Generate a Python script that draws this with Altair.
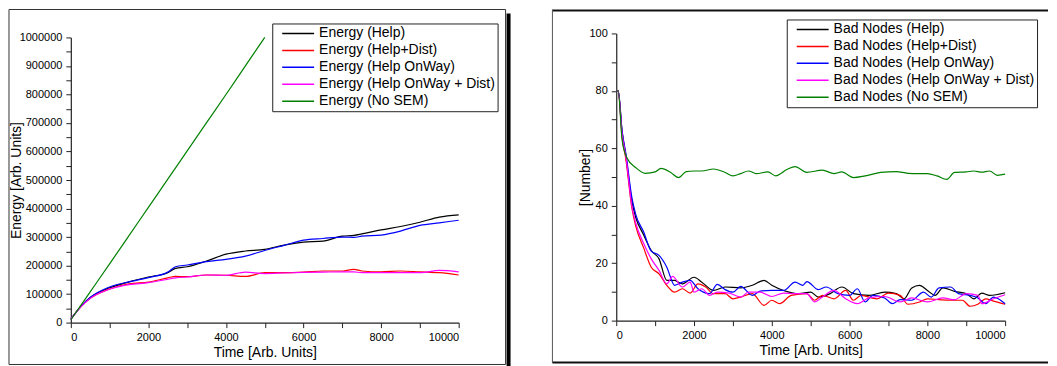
import altair as alt
import pandas as pd

FONT = "Liberation Sans"

# ---------------- Left panel: Energy ----------------
energy_names = ["Energy (Help)", "Energy (Help+Dist)", "Energy (Help OnWay)",
                "Energy (Help OnWay + Dist)", "Energy (No SEM)"]
series_colors = ["#000000", "#ff0000", "#0000ff", "#ff00ff", "#008000"]

t_energy = [0, 250, 500, 1000, 1500, 2000, 2500, 2700, 3000, 3500, 4000, 4500,
            5000, 5500, 6000, 6500, 7000, 7300, 7500, 8000, 8500, 9000, 9500, 10000]
energy_help = [12000, 55000, 88000, 122000, 143000, 160000, 175000, 190000, 196000,
               216000, 240000, 251000, 257000, 272000, 282000, 286000, 303000, 306000,
               311000, 325000, 337000, 352000, 370000, 378000]
energy_help_dist = [12000, 54000, 85000, 118000, 136000, 142000, 157000, 162000, 161000,
                    167000, 166000, 162000, 175000, 175000, 177000, 181000, 181000, 187000,
                    181000, 178000, 181000, 178000, 175000, 167000]
energy_onway = [12000, 55000, 88000, 125000, 143000, 158000, 177000, 196000, 202000,
                214000, 222000, 233000, 253000, 271000, 289000, 295000, 300000, 299000,
                303000, 307000, 321000, 341000, 350000, 359000]
energy_onway_dist = [12000, 54000, 85000, 117000, 133000, 140000, 152000, 157000, 160000,
                     167000, 166000, 177000, 172000, 174000, 176000, 177000, 178000, 178000,
                     175000, 175000, 175000, 175000, 183000, 178000]
t_energy_nosem = [0, 500, 1000, 1500, 2000, 2500, 3000, 3500, 4000, 4500, 5000]
energy_nosem = [10000, 108000, 206000, 305000, 404000, 503000, 602000, 701000,
                800000, 900000, 1000000]

# ---------------- Right panel: Bad Nodes ----------------
bad_names = ["Bad Nodes (Help)", "Bad Nodes (Help+Dist)", "Bad Nodes (Help OnWay)",
             "Bad Nodes (Help OnWay + Dist)", "Bad Nodes (No SEM)"]

t_bad_help = [0, 50, 150, 250, 400, 500, 700, 900, 1100, 1300, 1500, 1700, 2000, 2200,
              2500, 2800, 3200, 3500, 3800, 4000, 4300, 4700, 5000, 5200, 5500, 5800,
              6100, 6500, 6900, 7200, 7400, 7600, 7800, 8000, 8200, 8400, 8700, 9000,
              9200, 9400, 9600, 10000]
bad_help = [80, 80, 66, 57, 41.7, 36, 30, 24.4, 21.5, 14, 14, 12.8, 15.1, 13.4, 10.5,
            11.7, 11.4, 12.3, 14, 12.3, 10.5, 9.4, 9.9, 8.2, 9.4, 11.7, 9.4, 8.8, 9.9,
            9.4, 7.6, 11.4, 12.3, 10.5, 8.8, 11.4, 10.2, 9.4, 7.6, 9.6, 8.8, 9.7]

t_bad_help_dist = [0, 50, 150, 250, 400, 500, 700, 900, 1100, 1300, 1500, 1700, 1900,
                   2100, 2300, 2500, 2800, 3000, 3200, 3500, 3800, 4000, 4200, 4500, 4900,
                   5100, 5300, 5600, 5900, 6100, 6300, 6700, 7000, 7300, 7500, 7800, 8000,
                   8300, 8600, 8900, 9100, 9300, 9500, 9700, 10000]
bad_help_dist = [80, 80, 64, 56, 39.4, 33, 25.5, 18.6, 16.3, 12.3, 9.9, 11.1, 9.6, 12.8,
                 11.7, 9.4, 9.4, 7.6, 8.2, 9.4, 5.3, 7.1, 5.9, 8.8, 9.4, 7.1, 8.8, 7.6,
                 10.5, 7.1, 8.8, 7.6, 9.6, 8.8, 5.7, 6.5, 7.6, 7.3, 7.1, 7.1, 5.0, 5.7,
                 7.6, 6.8, 5.7]

t_bad_onway = [0, 50, 150, 250, 400, 500, 700, 900, 1100, 1300, 1500, 1700, 1900, 2100,
               2400, 2600, 2800, 3000, 3200, 3500, 3700, 4000, 4300, 4600, 4800, 4900,
               5200, 5400, 5700, 6000, 6200, 6400, 6600, 6900, 7100, 7300, 7600, 7900,
               8100, 8300, 8600, 8800, 9100, 9300, 9500, 9700, 10000]
bad_onway = [80, 80, 66, 58, 43, 37, 31, 24.2, 22.7, 18.6, 12.3, 13.4, 14, 11.1, 9.4,
             12.6, 10.8, 9.9, 11.9, 8.8, 10.3, 10.5, 10.5, 13.4, 12.3, 13.6, 10.8, 11.7,
             9.4, 8.8, 11.1, 6.5, 8.8, 7.9, 5.9, 7.3, 7.1, 9.9, 8.2, 11.4, 11.7, 9.4,
             8.8, 7.9, 5.9, 8.2, 5.9]

t_bad_onway_dist = [0, 50, 150, 250, 400, 500, 700, 900, 1100, 1300, 1450, 1700, 1900,
                    2000, 2200, 2400, 2600, 2900, 3200, 3400, 3700, 4000, 4300, 4600,
                    4900, 5100, 5300, 5600, 5900, 6200, 6500, 6900, 7300, 7600, 8000,
                    8400, 8700, 9000, 9300, 9400, 9700, 10000]
bad_onway_dist = [80, 80, 65, 57, 40, 34, 27, 21.5, 17.5, 12.8, 15.4, 11.7, 13.4, 9.9,
                  11.1, 8.8, 9.9, 9.6, 8.2, 9.9, 9.9, 8.4, 9.6, 9.4, 9.4, 6.5, 8.2, 10.5,
                  7.6, 5.9, 7.9, 8.4, 6.5, 7.9, 6.5, 7.9, 7.3, 9.4, 8.8, 5.9, 7.6, 9.0]

t_bad_nosem = [0, 50, 150, 270, 500, 750, 1000, 1150, 1400, 1600, 1800, 2000, 2200, 2500,
               2800, 3000, 3200, 3400, 3600, 3900, 4100, 4400, 4600, 4900, 5300, 5600,
               5800, 6100, 6400, 6800, 7200, 7500, 7800, 8000, 8250, 8500, 8700, 9000,
               9200, 9400, 9600, 9800, 10000]
bad_nosem = [80, 80, 63, 56.8, 53.3, 51.3, 51.8, 53, 51.6, 49.8, 51.9, 52.1, 52.1, 52.8,
             51.6, 50.4, 51.2, 52.1, 51.2, 51.8, 50.4, 52.7, 53.6, 51.6, 52.4, 51.2, 51.8,
             49.8, 50.4, 51.6, 51.9, 51.3, 51.2, 51.2, 50.4, 49.2, 51.6, 51.8, 52.1, 51.7,
             52.1, 50.6, 51]


def long_table(pairs, names):
    frames = []
    for i, ((t, v), n) in enumerate(zip(pairs, names)):
        d = pd.DataFrame({"t": t, "v": v})
        d["series"] = n
        d["order"] = i
        frames.append(d)
    return pd.concat(frames, ignore_index=True)


energy_df = long_table(
    [(t_energy, energy_help), (t_energy, energy_help_dist), (t_energy, energy_onway),
     (t_energy, energy_onway_dist), (t_energy_nosem, energy_nosem)], energy_names)
bad_df = long_table(
    [(t_bad_help, bad_help), (t_bad_help_dist, bad_help_dist), (t_bad_onway, bad_onway),
     (t_bad_onway_dist, bad_onway_dist), (t_bad_nosem, bad_nosem)], bad_names)

one = pd.DataFrame({"k": [0]})


def make_legend(lx, ly):
    return alt.Legend(orient="none", legendX=lx, legendY=ly, title=None,
                      strokeColor="#222222", fillColor="white", padding=2,
                      symbolType="stroke", symbolSize=1024, symbolStrokeWidth=1.5,
                      clipHeight=16, rowPadding=1, labelFontSize=14, labelFont=FONT,
                      labelColor="black", labelOffset=4, symbolOffset=7, labelLimit=400)


def lines(df, names, ymax, ystep, ylab, ytitle, tx, w, h, top, lx, ly):
    yvals = [ystep * i for i in range(int(round(ymax / ystep)) + 1)]
    return alt.Chart(df).mark_line(interpolate="monotone", strokeWidth=1.2).encode(
        x=alt.X("t:Q", scale=alt.Scale(domain=[0, 10000], nice=False, zero=False),
                axis=alt.Axis(values=list(range(0, 10001, 1000)), format="d",
                              labelExpr="datum.value % 2000 == 0 ? datum.label : ''",
                              title="Time [Arb. Units]", titlePadding=3)),
        y=alt.Y("v:Q", scale=alt.Scale(domain=[0, ymax], nice=False, range=[h, top]),
                axis=alt.Axis(values=yvals, format="d",
                              labelExpr=f"datum.value % {ylab} == 0 ? datum.label : ''",
                              title=ytitle, titleX=tx, titleY=(h + top) / 2,
                              titleBaseline="middle", titleAngle=-90)),
        color=alt.Color("series:N", scale=alt.Scale(domain=names, range=series_colors),
                        legend=make_legend(lx, ly)),
        order="order:Q",
    ).properties(width=w, height=h)


# Left panel (group origin at page y=32; plot top is 4px lower)
LW, LH = 389, 290
left_lines = lines(energy_df, energy_names, 1000000, 50000, 100000,
                   "Energy [Arb. Units]", -54, LW, LH, 4, 202, -10)
left_frame = alt.Chart(one).mark_rect(filled=False, stroke="#333333", strokeWidth=1).encode(
    x=alt.value(-62), x2=alt.value(436), y=alt.value(-24), y2=alt.value(332))
left_shadow = alt.Chart(one).mark_rect(color="black").encode(
    x=alt.value(437), x2=alt.value(441), y=alt.value(-20), y2=alt.value(334))
left = alt.layer(left_frame, left_shadow, left_lines)

# Right panel
RW, RH = 390, 288
right_lines = lines(bad_df, bad_names, 100, 10, 20, "[Number]", -31, RW, RH, 0, 171, -14)
r_top = alt.Chart(one).mark_rule(color="#111111", strokeWidth=2).encode(
    x=alt.value(-64), x2=alt.value(433), y=alt.value(-23))
r_left = alt.Chart(one).mark_rule(color="#555555", strokeWidth=1).encode(
    x=alt.value(-64), y=alt.value(-24), y2=alt.value(330))
r_bot = alt.Chart(one).mark_rule(color="#111111", strokeWidth=2).encode(
    x=alt.value(-64), x2=alt.value(433), y=alt.value(330))
right = alt.layer(r_top, r_left, r_bot, right_lines)

chart = alt.hconcat(left, right, spacing=41).resolve_scale(
    color="independent").resolve_legend(color="independent").properties(
    padding=0).configure_view(stroke=None).configure_axis(
    labelFont=FONT, titleFont=FONT, labelFontSize=11, titleFontSize=14,
    titleFontWeight="normal", labelColor="black", titleColor="black",
    domainColor="#222222", tickColor="#222222", domainWidth=1.2, tickWidth=1,
    tickSize=5, labelPadding=4, grid=False)

chart.save("out.html", embed_options={"renderer": "svg", "actions": False})
